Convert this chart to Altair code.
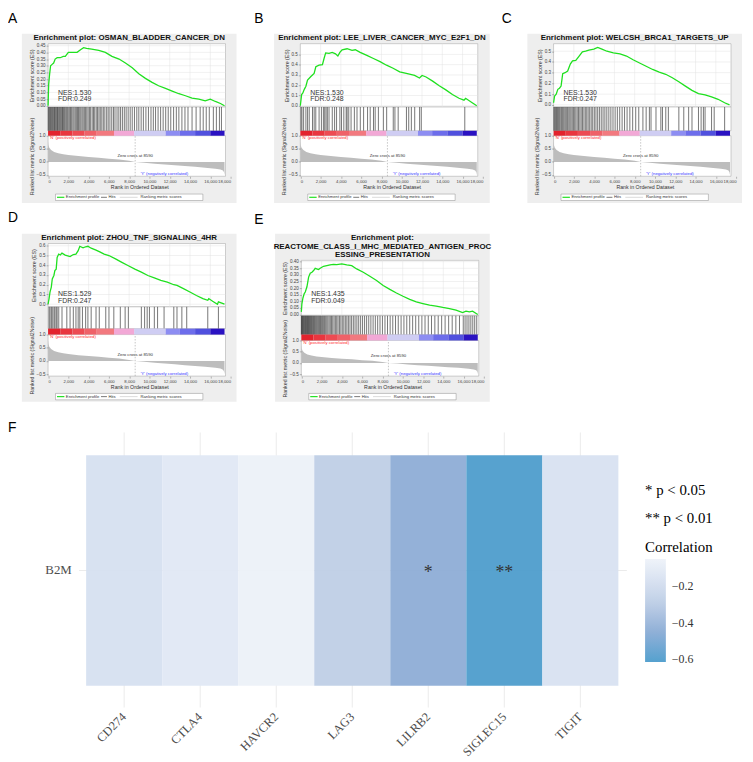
import altair as alt
import pandas as pd

FONT = "Liberation Sans"
SERIF = "Liberation Serif"
OFF = 8            # page margin: page pixel = view pixel + 8
VW, VH = 745, 754  # one single view covering the page

# ---------------- shared GSEA data (same ranked list in all panels) ----------------
x_ticks = [0, 2000, 4000, 6000, 8000, 10000, 12000, 14000, 16000, 18000]
x_grid = [2000, 4000, 6000, 8000, 10000, 12000, 14000, 16000]
plot_xmax = 17500
zero_cross = 8590
metric_ticks = [-0.5, 0.0, 0.5, 1.0]
metric_rank = [0, 40, 120, 300, 600, 1000, 1500, 2000, 3000, 4000, 5000, 6000, 7000, 8000,
               8590, 9500, 10500, 11500, 12500, 13500, 14500, 15500, 16500, 17000, 17250, 17350, 17400]
metric_val = [0.78, 0.64, 0.54, 0.45, 0.38, 0.33, 0.29, 0.26, 0.22, 0.19, 0.16, 0.12, 0.09, 0.04,
              0.0, -0.03, -0.07, -0.10, -0.13, -0.16, -0.19, -0.22, -0.26, -0.29, -0.33, -0.40, -0.50]
cbar_start = [0, 1200, 2400, 3600, 4800, 6500, 8500, 11600, 13000, 14500, 16000]
cbar_end = [1200, 2400, 3600, 4800, 6500, 8500, 11600, 13000, 14500, 16000, 17400]
cbar_color = ["#e3232d", "#e9363f", "#ed4b53", "#ef6168", "#f2797f", "#f2a8d6",
              "#cfcdf3", "#8d8df2", "#6d6deb", "#5050de", "#2a12c2"]

# ---------------- panel A ----------------
A_title = ["Enrichment plot: OSMAN_BLADDER_CANCER_DN"]
A_nes, A_fdr = "NES:1.530", "FDR:0.249"
A_ticks = [0.0, 0.05, 0.10, 0.15, 0.20, 0.25, 0.30, 0.35, 0.40, 0.45]
A_rank = [0, 30, 60, 150, 250, 400, 550, 700, 900, 1200, 1500, 1700, 2000, 2500, 2860, 3200, 3500,
          3800, 4300, 5000, 5650, 6300, 7000, 7630, 8300, 8950, 9600, 10260, 10900, 11580, 12240,
          12900, 13550, 14200, 14870, 15500, 16000, 16500, 17000, 17400]
A_es = [0.0, 0.08, 0.16, 0.235, 0.30, 0.31, 0.32, 0.35, 0.36, 0.36, 0.37, 0.37, 0.40, 0.40, 0.40,
        0.42, 0.435, 0.43, 0.425, 0.415, 0.40, 0.37, 0.35, 0.32, 0.285, 0.24, 0.205, 0.175, 0.15,
        0.13, 0.11, 0.09, 0.075, 0.057, 0.05, 0.037, 0.05, 0.032, 0.017, 0.0]
A_hits = [20, 90, 160, 240, 330, 410, 480, 560, 640, 700, 780, 860, 930, 1010, 1100, 1180, 1260,
          1350, 1420, 1500, 1580, 1660, 1760, 1850, 1940, 2050, 2150, 2230, 2330, 2450, 2560, 2680,
          2790, 2900, 3000, 3120, 3230, 3350, 3460, 3580, 3700, 3820, 3950, 4080, 4200, 4350, 4480,
          4600, 4750, 4880, 5020, 5150, 5300, 5450, 5600, 5780, 5930, 6100, 6280, 6450, 6600, 6800,
          6980, 7150, 7330, 7520, 7700, 7900, 8100, 8300, 8520, 8750, 8950, 9180, 9400, 9650, 9900,
          10150, 10380, 10600, 10850, 11100, 11350, 11600, 11850, 12100, 12380, 12650, 12900, 13200,
          13500, 13800, 14200, 14600, 15000, 15300, 15600, 15900, 16300, 16600, 16900, 17100]

# ---------------- panel B ----------------
B_title = ["Enrichment plot: LEE_LIVER_CANCER_MYC_E2F1_DN"]
B_nes, B_fdr = "NES:1.530", "FDR:0.248"
B_ticks = [0.0, 0.1, 0.2, 0.3, 0.4, 0.5]
B_rank = [0, 130, 250, 390, 550, 710, 1040, 1200, 1360, 1530, 1850, 2180, 2340, 2500, 2830, 3150,
          3470, 3700, 3900, 4120, 4610, 5100, 5420, 5900, 6560, 7210, 7860, 8500, 9150, 9800, 10450,
          11270, 11750, 12010, 12400, 13050, 13700, 14350, 15000, 15650, 16140, 16300, 16950, 17400]
B_es = [0.0, 0.11, 0.125, 0.16, 0.19, 0.25, 0.285, 0.30, 0.315, 0.38, 0.395, 0.40, 0.46, 0.515,
        0.51, 0.52, 0.505, 0.485, 0.52, 0.545, 0.555, 0.54, 0.545, 0.52, 0.49, 0.46, 0.43, 0.395,
        0.365, 0.33, 0.315, 0.295, 0.27, 0.295, 0.28, 0.24, 0.195, 0.155, 0.11, 0.073, 0.055, 0.073,
        0.03, 0.0]
B_hits = [65, 160, 325, 550, 715, 880, 1200, 1365, 1525, 1850, 2080, 2275, 2405, 2535, 2665, 2830,
          3150, 3380, 3575, 3900, 4060, 4290, 4520, 4615, 4775, 5005, 5330, 5590, 5915, 6240, 6630,
          6890, 7215, 7380, 7700, 8190, 8515, 9165, 9330, 9650, 10465, 10690, 10950, 11280, 11765,
          11930, 16220]

# ---------------- panel C ----------------
C_title = ["Enrichment plot: WELCSH_BRCA1_TARGETS_UP"]
C_nes, C_fdr = "NES:1.530", "FDR:0.247"
C_ticks = [0.0, 0.1, 0.2, 0.3, 0.4, 0.5]
C_rank = [0, 100, 260, 420, 580, 740, 900, 1130, 1390, 1650, 1870, 2190, 2520, 2840, 3160, 3480,
          3970, 4350, 4770, 5260, 5900, 6550, 7190, 7840, 8480, 9130, 9770, 10420, 11060, 11710,
          12350, 13000, 13650, 14290, 14940, 15580, 16230, 16870, 17350]
C_es = [0.02, 0.083, 0.10, 0.145, 0.155, 0.175, 0.29, 0.30, 0.315, 0.38, 0.41, 0.415, 0.455, 0.495,
        0.50, 0.51, 0.52, 0.535, 0.52, 0.50, 0.485, 0.475, 0.455, 0.42, 0.39, 0.36, 0.33, 0.305,
        0.285, 0.253, 0.215, 0.175, 0.135, 0.105, 0.093, 0.074, 0.052, 0.02, 0.0]
C_hits = [30, 110, 200, 290, 380, 470, 560, 650, 760, 850, 940, 1040, 1150, 1260, 1380, 1500, 1610,
          1720, 1840, 1960, 2080, 2200, 2330, 2460, 2590, 2720, 2850, 2990, 3130, 3270, 3410, 3560,
          3710, 3860, 4020, 4180, 4350, 4520, 4700, 4880, 5060, 5250, 5450, 5650, 5860, 6070, 6290,
          6520, 6760, 7000, 7250, 7520, 7800, 8100, 8400, 8810, 9130, 9450, 9610, 10100, 10580,
          10740, 11065, 11320, 12355, 12840, 13320, 13650, 14290, 14550, 14775, 14940, 15580,
          15840, 16870]

# ---------------- panel D ----------------
D_title = ["Enrichment plot: ZHOU_TNF_SIGNALING_4HR"]
D_nes, D_fdr = "NES:1.529", "FDR:0.247"
D_ticks = [0.0, 0.1, 0.2, 0.3, 0.4, 0.5, 0.6]
D_rank = [0, 100, 190, 320, 415, 575, 670, 800, 895, 1050, 1210, 1370, 1690, 2170, 2490, 2750,
          2970, 3130, 3450, 3700, 3930, 4250, 4730, 5050, 5530, 6000, 6650, 7280, 7920, 8560, 9200,
          9840, 10480, 11120, 11760, 12400, 12720, 13350, 13990, 14630, 15270, 15750, 15850, 16230,
          16710, 16800, 17400]
D_es = [0.0, 0.058, 0.125, 0.176, 0.26, 0.295, 0.346, 0.36, 0.48, 0.515, 0.505, 0.525, 0.505, 0.49,
        0.51, 0.515, 0.55, 0.595, 0.58, 0.59, 0.595, 0.575, 0.555, 0.54, 0.515, 0.50, 0.465, 0.43,
        0.395, 0.36, 0.33, 0.295, 0.27, 0.245, 0.227, 0.20, 0.193, 0.16, 0.125, 0.09, 0.058, 0.04,
        0.058, 0.03, 0.0, 0.024, 0.0]
D_hits = [95, 190, 320, 415, 575, 670, 800, 895, 1055, 1375, 1850, 2170, 2490, 2750, 2970, 3130,
          3390, 3705, 3930, 4250, 4730, 5050, 5690, 6005, 6485, 7125, 7600, 7920, 9200, 9520, 9775,
          10000, 10480, 10800, 11440, 12400, 12715, 13195, 13675, 15750, 16800]

# ---------------- panel E ----------------
E_title = ["Enrichment plot:", "REACTOME_CLASS_I_MHC_MEDIATED_ANTIGEN_PROC", "ESSING_PRESENTATION"]
E_nes, E_fdr = "NES:1.435", "FDR:0.049"
E_ticks = [0.0, 0.05, 0.10, 0.15, 0.20, 0.25, 0.30, 0.35, 0.40]
E_rank = [0, 60, 160, 290, 390, 555, 720, 880, 1050, 1210, 1370, 1700, 1860, 2190, 2520, 2840,
          3170, 3500, 3990, 4480, 4970, 5460, 6110, 6760, 7420, 8070, 8730, 9380, 10030, 10690,
          11340, 11990, 12650, 13300, 13950, 14610, 15260, 15910, 16240, 16570, 16890, 17400]
E_es = [0.02, 0.083, 0.125, 0.158, 0.17, 0.21, 0.283, 0.313, 0.32, 0.333, 0.35, 0.34, 0.35, 0.365,
        0.37, 0.375, 0.38, 0.378, 0.383, 0.375, 0.37, 0.345, 0.32, 0.29, 0.258, 0.22, 0.19, 0.163,
        0.138, 0.115, 0.095, 0.083, 0.07, 0.063, 0.053, 0.045, 0.033, 0.015, 0.025, 0.02, 0.025, 0.0]
E_hits = [10, 60, 110, 170, 230, 290, 350, 420, 480, 540, 600, 660, 720, 790, 850, 920, 990, 1060,
          1130, 1210, 1290, 1370, 1450, 1530, 1620, 1710, 1800, 1890, 1980, 2080, 2180, 2290, 2400,
          2510, 2620, 2740, 2860, 2980, 3100, 3230, 3360, 3490, 3620, 3760, 3900, 4040, 4190, 4340,
          4490, 4640, 4800, 4960, 5130, 5300, 5480, 5660, 5850, 6040, 6240, 6440, 6650, 6860, 7080,
          7300, 7530, 7760, 8000, 8250, 8500, 8760, 9020, 9290, 9560, 9840, 10120, 10400, 10690,
          10980, 11280, 11580, 11890, 12200, 12520, 12840, 13170, 13500, 13840, 14180, 14530, 14880,
          15240, 15600, 15970, 16150, 16340, 16530, 16720, 16910, 17100, 17300]

# ---------------- panel F (heatmap) ----------------
genes = ["CD274", "CTLA4", "HAVCR2", "LAG3", "LILRB2", "SIGLEC15", "TIGIT"]
rows = ["B2M", "B2M", "B2M", "B2M", "B2M", "B2M", "B2M"]
corr = [-0.17, -0.12, -0.06, -0.28, -0.44, -0.61, -0.16]
stars = ["", "", "", "", "*", "**", ""]
legend_values = [-0.6, -0.4, -0.2]

ONE = alt.Data(values=[{"k": 0}])


def v(p):
    """page pixel -> view pixel"""
    return p - OFF


def label(text, x, y, size, color="#333", align="left", weight="normal", lh=None, xenc=None,
          font=FONT, baseline="middle"):
    kw = {"lineHeight": lh} if lh else {}
    return alt.Chart(ONE).mark_text(font=font, fontSize=size, color=color, align=align,
                                    baseline=baseline, fontWeight=weight, **kw).encode(
        x=xenc if xenc is not None else alt.value(x), y=alt.value(y), text=alt.value(text))


def seg(a, b, y, color, width=1.0):
    return alt.Chart(ONE).mark_rule(color=color, strokeWidth=width).encode(
        x=alt.value(a), x2=alt.value(b), y=alt.value(y))


def gsea(title, nes, fdr, ticks, fmt, rank, es, hits, px, py, L):
    ox, oy = v(px), v(py)
    W, H = L["w"], L["h"]
    x0 = ox + L["xr"][0]
    xsc = alt.Scale(domain=[0, 18000], range=[ox + L["xr"][0], ox + L["xr"][1]], nice=False, zero=False)

    def ysc(dom, rng):
        return alt.Scale(domain=dom, range=[oy + rng[0], oy + rng[1]], nice=False, zero=False)

    esc = ysc(L["es_dom"], L["es"])
    hsc = ysc([0, 1], L["hits"])
    csc = ysc([0, 1], L["cbar"])
    msc = ysc(L["mdom"], L["met"])
    common = dict(labelFont=FONT, labelFontSize=4.6, labelColor="#444", titleFont=FONT,
                  titleFontSize=5.3, titleFontWeight="normal", titleColor="#333", tickSize=2,
                  tickColor="#777", tickWidth=0.5, domain=False, grid=False, labelPadding=1,
                  labelOverlap=False, zindex=2)
    xaxis = alt.Axis(values=x_ticks, format=",d", title="Rank in Ordered Dataset", orient="bottom",
                     offset=-(VH - (oy + L["met"][0])), titlePadding=1.5,
                     **dict(common, labelFontSize=4.3))
    es_axis = alt.Axis(values=ticks, format=fmt, title="Enrichment score (ES)", orient="left",
                       offset=-x0, titlePadding=2, **common)
    met_axis = alt.Axis(values=metric_ticks, format=".1f", title="Ranked list metric (Signal2Noise)",
                        orient="left", offset=-x0, titlePadding=2, **common)

    def xd(val):
        return alt.XDatum(val, scale=xsc, axis=None)

    def white(sc, a, b):
        return alt.Chart(ONE).mark_rect(fill="white", stroke="#a0a0a0", strokeWidth=0.5).encode(
            x=xd(0), x2=alt.X2Datum(plot_xmax),
            y=alt.YDatum(a, scale=sc, axis=None), y2=alt.Y2Datum(b))

    ly = oy + L["leg_y"]
    return [
        alt.Chart(ONE).mark_rect(fill="#eeeeee").encode(
            x=alt.value(ox), x2=alt.value(ox + W), y=alt.value(oy), y2=alt.value(oy + H)),
        white(esc, L["es_dom"][0], L["es_dom"][1]),
        white(hsc, 0, 1),
        white(msc, L["mdom"][0], L["mdom"][1]),
        alt.Chart(pd.DataFrame({"v": ticks})).mark_rule(color="#e2e2e2", strokeWidth=0.5).encode(
            y=alt.Y("v:Q", scale=esc, axis=None), x=xd(0), x2=alt.X2Datum(plot_xmax)),
        alt.Chart(pd.DataFrame({"g": x_grid})).mark_rule(color="#e2e2e2", strokeWidth=0.5).encode(
            x=alt.X("g:Q", scale=xsc, axis=None),
            y=alt.YDatum(L["es_dom"][0], scale=esc, axis=None), y2=alt.Y2Datum(L["es_dom"][1])),
        alt.Chart(pd.DataFrame({"rank": metric_rank, "m": metric_val})).mark_area(color="#bdbdbd").encode(
            x=alt.X("rank:Q", scale=xsc, axis=None),
            y=alt.Y("m:Q", scale=msc, axis=met_axis), y2=alt.Y2Datum(0)),
        alt.Chart(ONE).mark_rule(color="#8a8a8a", strokeDash=[1.5, 1.5], strokeWidth=0.5).encode(
            x=xd(zero_cross), y=alt.YDatum(L["mdom"][0], scale=msc, axis=None),
            y2=alt.Y2Datum(L["mdom"][1])),
        alt.Chart(pd.DataFrame({"rank": rank, "es": es})).mark_line(color="#1fe01f", strokeWidth=1.3).encode(
            x=alt.X("rank:Q", scale=xsc, axis=xaxis),
            y=alt.Y("es:Q", scale=esc, axis=es_axis)),
        alt.Chart(pd.DataFrame({"h": hits})).mark_rule(color="#1a1a1a", strokeWidth=0.7, opacity=0.85).encode(
            x=alt.X("h:Q", scale=xsc, axis=None),
            y=alt.YDatum(0, scale=hsc, axis=None), y2=alt.Y2Datum(1)),
        alt.Chart(pd.DataFrame({"s": cbar_start, "e": cbar_end, "c": cbar_color})).mark_rect().encode(
            x=alt.X("s:Q", scale=xsc, axis=None), x2="e:Q",
            y=alt.YDatum(0, scale=csc, axis=None), y2=alt.Y2Datum(1),
            color=alt.Color("c:N", scale=None)),
        label(title, ox + W / 2, oy + L["title_y"], 8.0, color="#111", align="center", weight="bold", lh=8.6),
        label(nes, x0 + 10, oy + L["nes_y"], 7),
        label(fdr, x0 + 10, oy + L["nes_y"] + 6.5, 7),
        label("Zero cross at " + str(zero_cross), 0, oy + L["zc_y"], 4.3, align="center", xenc=xd(zero_cross)),
        label("'N' (positively correlated)", x0 + 1.5, oy + L["cbar"][0] + 2.8, 4.3, color="#ff2a2a"),
        label("'Y' (negatively correlated)", ox + 144, oy + L["met"][0] - 2.2, 4.3, color="#3434ff",
              align="center"),
        alt.Chart(ONE).mark_rect(fill="white", stroke="#8c8c8c", strokeWidth=0.5).encode(
            x=alt.value(ox + 34), x2=alt.value(ox + 183), y=alt.value(ly), y2=alt.value(ly + 6.5)),
        seg(ox + 35.5, ox + 43, ly + 3.25, "#1fe01f", 1.2),
        label("Enrichment profile", ox + 44.5, ly + 3.4, 4.2),
        seg(ox + 80, ox + 86, ly + 3.25, "#555555", 0.8),
        label("Hits", ox + 87.5, ly + 3.4, 4.2),
        seg(ox + 99, ox + 117, ly + 3.25, "#d0d0d0", 0.8),
        label("Ranking metric scores", ox + 120, ly + 3.4, 4.2),
    ]


L_top = dict(w=217, h=171, xr=[26.5, 211], es=[74, 10], hits=[98, 74], cbar=[103, 98],
             met=[144, 103], mdom=[-0.55, 1.0], title_y=4.5, nes_y=59.5, zc_y=124, leg_y=162)
L_A = dict(L_top, es_dom=[-0.0096, 0.465])
L_B = dict(L_top, w=218, es_dom=[-0.012, 0.604])
L_C = dict(L_top, es_dom=[-0.02, 0.57])
L_D = dict(L_top, h=170, hits=[96, 74], cbar=[102, 96], met=[144, 102], mdom=[-0.575, 1.0],
           es_dom=[-0.027, 0.623], nes_y=61.5, zc_y=123, leg_y=161.5)
L_E = dict(L_top, h=170, es=[83, 27], hits=[102, 83], cbar=[108, 102], met=[144, 108],
           mdom=[-0.59, 1.0], es_dom=[-0.0097, 0.41], nes_y=61.5, zc_y=124, leg_y=161.5)

layers = []
layers += gsea(A_title, A_nes, A_fdr, A_ticks, ".2f", A_rank, A_es, A_hits, 22, 29, L_A)
layers += gsea(B_title, B_nes, B_fdr, B_ticks, ".1f", B_rank, B_es, B_hits, 277, 29, L_B)
layers += gsea(C_title, C_nes, C_fdr, C_ticks, ".1f", C_rank, C_es, C_hits, 533, 29, L_C)
layers += gsea(D_title, D_nes, D_fdr, D_ticks, ".1f", D_rank, D_es, D_hits, 22, 231, L_D)
layers += gsea(E_title, E_nes, E_fdr, E_ticks, ".2f", E_rank, E_es, E_hits, 278, 231, L_E)

# panel letters (alphabetic baseline)
for ch, lx, lb in [("A", 8, 18), ("B", 257, 18), ("C", 507, 18), ("D", 8, 219), ("E", 257, 221),
                   ("F", 8, 432)]:
    layers.append(label(ch, v(lx), v(lb), 14, color="#000", baseline="alphabetic"))

# ---------------- heatmap ----------------
heat_df = pd.DataFrame({"gene": genes, "row": rows, "corr": corr, "star": stars})
hx = alt.Scale(domain=genes, range=[v(87), v(625)], paddingInner=0, paddingOuter=0)
hy = alt.Scale(domain=["B2M"], range=[v(455), v(688)], paddingInner=0, paddingOuter=0)

layers.append(alt.Chart(heat_df).mark_rule(color="#ebebeb", strokeWidth=1).encode(
    x=alt.X("gene:N", scale=hx, axis=None), y=alt.value(v(432)), y2=alt.value(v(710))))
layers.append(alt.Chart(heat_df).mark_rule(color="#ebebeb", strokeWidth=1).encode(
    y=alt.Y("row:N", scale=hy, axis=None), x=alt.value(v(80)), x2=alt.value(v(633))))

tiles = alt.Chart(heat_df).mark_rect(opacity=0.95).encode(
    x=alt.X("gene:N", scale=hx, title=None,
            axis=alt.Axis(orient="bottom", offset=-(VH - v(710)), labelAngle=-45, labelAlign="right",
                          labelBaseline="middle", labelFont=SERIF, labelFontSize=12.5,
                          labelColor="#4d4d4d", labelPadding=7, ticks=False, domain=False, grid=False)),
    y=alt.Y("row:N", scale=hy, title=None,
            axis=alt.Axis(orient="left", offset=-v(80), labelFont=SERIF, labelFontSize=13,
                          labelColor="#4d4d4d", labelPadding=8, ticks=False, domain=False, grid=False)),
    color=alt.Color("corr:Q",
                    scale=alt.Scale(domain=[-0.616, -0.44, -0.28, -0.17, -0.05],
                                    range=["#4c9ccc", "#8eadd6", "#bfcfe6", "#d6e0f0", "#eef2f9"],
                                    interpolate="rgb"),
                    legend=alt.Legend(orient="none", legendX=v(652), legendY=v(483.5),
                                      title=["* p < 0.05", "** p < 0.01", "Correlation"],
                                      titleFont=SERIF, titleFontSize=15, titleFontWeight="normal",
                                      titleColor="#000000", titleLineHeight=28.5, titlePadding=4.5,
                                      gradientLength=104, gradientThickness=21, gradientStrokeWidth=0,
                                      labelFont=SERIF, labelFontSize=12, labelColor="#333",
                                      labelOffset=6, values=legend_values, format=".1f", padding=0,
                                      direction="vertical", labelOverlap=False)))
layers.append(tiles)
layers.append(alt.Chart(heat_df).mark_text(font=SERIF, fontSize=18, color="#333", baseline="middle", dy=3).encode(
    x=alt.X("gene:N", scale=hx, axis=None), y=alt.Y("row:N", scale=hy, axis=None), text="star:N"))

chart = alt.layer(*layers).resolve_scale(
    x="independent", y="independent", color="independent"
).properties(width=VW, height=VH, padding=0, background="white").configure_view(stroke=None)

chart.save("out.html", embed_options={"renderer": "svg", "actions": False})
